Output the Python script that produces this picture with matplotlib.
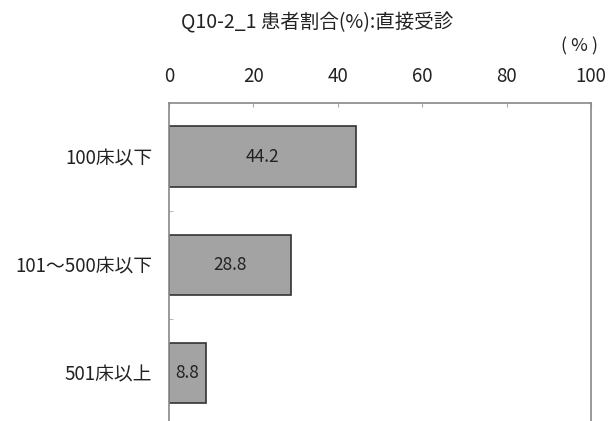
import matplotlib.pyplot as plt

plt.rcParams['font.family'] = ['Noto Sans CJK JP', 'DejaVu Sans']

categories = ['100床以下', '101～500床以下', '501床以上']
values = [44.2, 28.8, 8.8]
xticks = [0, 20, 40, 60, 80, 100]

fig = plt.figure(figsize=(6.1, 4.21), dpi=100)
ax = fig.add_axes([0.277, -0.014, 0.692, 0.770])

ypos = range(len(categories))
ax.barh(ypos, values, height=0.56, color='#a3a3a3', edgecolor='#333333', linewidth=1.2)

for y, v in zip(ypos, values):
    ax.text(v / 2, y, f'{v:.1f}', ha='center', va='center', fontsize=12.5, color='#222222')

ax.set_xlim(0, 100)
ax.set_ylim(2.5, -0.5)
ax.set_xticks(xticks)
ax.xaxis.tick_top()
ax.tick_params(axis='x', direction='in', length=3, pad=11, labelsize=13.5, colors='#aaaaaa', labelcolor='#222222')
ax.set_yticks(list(ypos))
ax.set_yticklabels(categories)
ax.set_yticks([0.5, 1.5], minor=True)
ax.tick_params(axis='y', which='major', length=0, pad=12, labelsize=13.5, labelcolor='#222222')
ax.tick_params(axis='y', which='minor', direction='in', length=3, color='#aaaaaa')

for s in ['top', 'left', 'right']:
    ax.spines[s].set_color('#888888')
    ax.spines[s].set_linewidth(1.2)
ax.spines['bottom'].set_visible(False)

fig.text(0.52, 0.945, 'Q10-2_1 患者割合(%):直接受診', ha='center', va='center', fontsize=14, color='#222222')
fig.text(0.95, 0.89, '( % )', ha='center', va='center', fontsize=13, color='#222222')

fig.savefig('out.png', dpi=100)
